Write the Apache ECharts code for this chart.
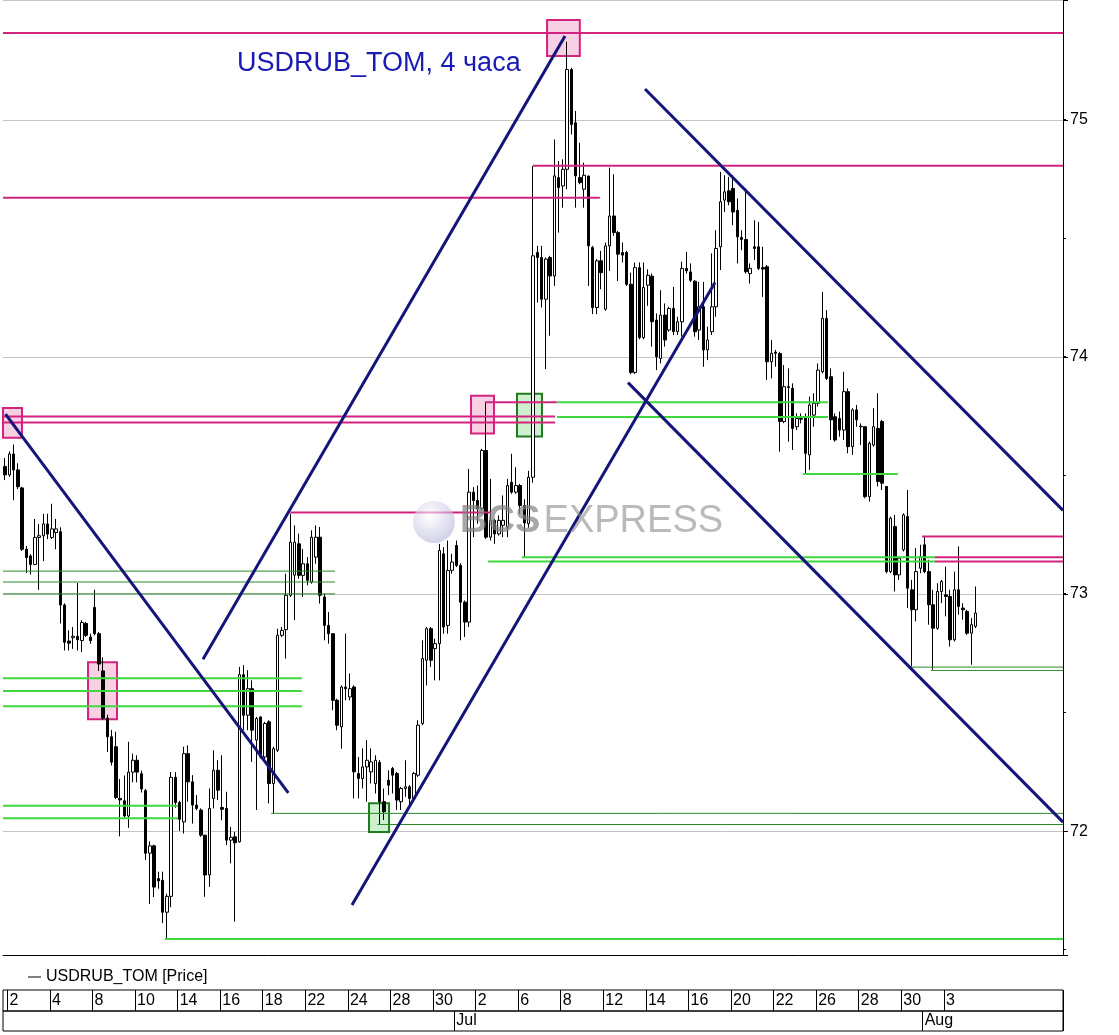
<!DOCTYPE html>
<html>
<head>
<meta charset="utf-8">
<script src="https://cdn.jsdelivr.net/npm/echarts@6/dist/echarts.min.js"></script>
<style>html,body{margin:0;padding:0;background:#fff}#c{width:1119px;height:1035px}</style>
</head>
<body>
<div id="c"></div>
<script>
// ---- trading days (4-hour candles) ----
const juneDays = [1,2,3,4,7,8,9,10,11,14,15,16,17,18,21,22,23,24,25,28,29,30];
const julyDays = [1,2,5,6,7,8,9,12,13,14,15,16,19,20,21,22,23,26,27,28,29,30];
const augDays  = [2,3,4];
const candlesPerDayFirst = 1;   // only last candle of June 1 visible
const candlesPerDay = 5;
const candlesPerDayLast = 3;    // Aug 4 so far
const totalSlots = 249;         // category slots across the plot (incl. empty right side)

// ---- OHLC values ----
const opens = [73.538,73.503,73.591,73.524,73.448,73.189,73.161,73.125,73.239,73.246,
73.296,73.239,73.260,73.263,72.954,72.802,72.816,72.822,72.804,72.876,
72.819,72.944,72.833,72.676,72.477,72.398,72.356,72.138,72.128,72.064,
72.249,72.299,72.242,72.171,71.907,71.938,71.800,71.793,71.658,71.725,
72.227,72.121,72.039,72.327,72.208,72.110,72.089,71.983,71.815,72.138,
72.257,72.100,72.096,71.962,71.976,71.955,72.660,72.489,72.601,72.384,
72.482,72.313,72.461,72.201,72.341,72.826,72.850,72.995,73.080,73.212,
73.079,73.128,73.051,73.156,73.240,72.988,72.868,72.833,72.552,72.440,
72.608,72.566,72.608,72.243,72.222,72.271,72.250,72.201,72.290,72.124,
72.215,72.264,72.243,72.124,72.180,72.187,72.138,72.236,72.454,72.721,
72.854,72.770,72.791,73.170,72.868,73.100,73.205,73.121,72.966,72.882,
73.430,73.395,73.360,73.606,73.240,73.311,73.254,73.290,73.283,73.472,
73.430,73.458,73.374,73.297,73.493,74.441,74.420,74.244,74.420,74.342,
74.757,74.722,74.792,75.213,74.988,74.757,74.708,74.764,74.462,74.209,
74.406,74.202,74.469,74.595,74.525,74.441,74.441,74.307,73.935,74.377,
74.082,74.303,74.341,74.156,73.994,74.177,74.114,74.205,74.107,74.149,
74.374,74.359,74.320,74.114,74.212,74.030,74.107,74.212,74.465,74.662,
74.701,74.711,74.619,74.504,74.496,74.352,74.465,74.465,74.378,74.381,
73.980,74.021,74.015,73.728,73.875,73.868,73.706,73.741,73.748,73.587,
73.755,73.805,73.938,74.163,73.917,73.748,73.741,73.692,73.854,73.622,
73.777,73.708,73.706,73.411,73.629,73.699,73.728,73.454,73.095,73.285,
73.081,73.187,73.327,73.018,72.934,73.109,73.208,73.095,72.955,72.856,
73.011,72.997,72.990,72.807,73.018,72.941,72.927,72.835,72.864];
const highs = [73.574,73.602,73.631,73.552,73.453,73.203,73.168,73.317,73.296,73.339,
73.339,73.381,73.317,73.282,72.961,72.847,72.861,73.047,72.890,72.883,
72.833,73.018,72.840,72.733,72.491,72.427,72.420,72.220,72.235,72.377,
72.327,72.320,72.256,72.178,71.957,71.943,71.829,71.829,71.736,72.249,
72.249,72.128,72.356,72.362,72.236,72.152,72.096,71.983,72.180,72.341,
72.299,72.320,72.166,72.018,71.997,72.693,72.700,72.679,72.636,72.482,
72.482,72.461,72.468,72.356,72.854,72.861,73.086,73.339,73.290,73.255,
73.191,73.156,73.269,73.290,73.283,73.002,72.924,72.833,72.559,72.615,
72.833,72.665,72.615,72.313,72.349,72.384,72.349,72.320,72.300,72.180,
72.257,72.271,72.250,72.187,72.299,72.194,72.250,72.468,72.805,72.861,
72.861,72.812,73.212,73.198,73.226,73.170,73.226,73.130,72.973,73.528,
73.451,73.458,73.613,73.809,73.486,73.318,73.332,73.416,73.486,73.592,
73.535,73.465,73.400,73.520,74.806,74.469,74.469,74.420,74.427,74.918,
74.827,74.834,75.330,75.220,75.038,74.904,74.820,74.764,74.469,74.413,
74.448,74.483,74.799,74.771,74.532,74.483,74.448,74.356,74.399,74.399,
74.399,74.370,74.352,74.184,74.282,74.226,74.212,74.296,74.170,74.402,
74.444,74.395,74.324,74.317,74.317,74.128,74.437,74.535,74.781,74.767,
74.760,74.767,74.669,74.535,74.711,74.395,74.577,74.570,74.465,74.388,
74.072,74.030,74.022,73.966,73.952,73.889,73.762,73.762,73.762,73.833,
73.847,73.973,74.275,74.198,73.952,73.762,73.770,73.938,73.868,73.784,
73.798,73.720,73.706,73.643,73.784,73.847,73.735,73.454,73.327,73.334,
73.158,73.341,73.439,73.060,73.194,73.208,73.243,73.145,73.018,73.046,
73.060,73.116,73.018,73.095,73.201,72.962,72.934,72.899,73.032];
const lows = [73.481,73.495,73.396,73.443,73.182,73.089,73.082,73.122,73.018,73.139,
73.232,73.232,73.189,72.876,72.762,72.762,72.769,72.762,72.755,72.819,
72.790,72.826,72.676,72.470,72.334,72.277,72.135,71.978,72.057,72.014,
72.206,72.206,72.163,71.878,71.693,71.722,71.757,71.612,71.545,71.679,
72.099,72.001,71.990,72.124,72.032,72.088,71.976,71.723,71.765,72.096,
72.131,72.046,71.941,71.864,71.618,71.951,72.426,72.426,72.292,72.089,
72.306,72.299,72.117,72.075,72.334,72.819,72.728,72.988,72.890,73.065,
72.988,73.037,73.044,73.128,72.960,72.805,72.791,72.510,72.426,72.348,
72.552,72.552,72.138,72.138,72.180,72.124,72.201,72.159,72.028,72.047,
72.152,72.159,72.089,72.089,72.145,72.110,72.131,72.229,72.447,72.615,
72.693,72.636,72.636,72.833,72.833,73.086,73.114,72.805,72.819,72.861,
73.240,73.297,73.353,73.233,73.226,73.212,73.247,73.240,73.240,73.423,
73.423,73.339,73.155,73.280,73.470,74.230,74.209,73.949,74.090,74.300,
74.525,74.630,74.708,74.939,74.630,74.729,74.630,74.300,74.181,74.181,
74.286,74.195,74.363,74.511,74.321,74.399,74.300,73.928,73.928,74.075,
74.075,74.216,74.044,73.945,73.973,74.044,74.107,74.093,74.093,74.086,
74.352,74.317,74.086,74.072,73.959,73.987,74.093,74.170,74.367,74.612,
74.640,74.556,74.395,74.451,74.352,74.310,74.409,74.367,74.254,73.903,
73.910,73.959,73.601,73.721,73.643,73.608,73.692,73.720,73.510,73.524,
73.706,73.791,73.931,73.903,73.650,73.643,73.664,73.650,73.594,73.587,
73.706,73.629,73.404,73.390,73.622,73.454,73.439,73.088,73.088,73.011,
73.060,73.180,72.941,72.695,72.885,73.088,73.088,72.871,72.681,72.849,
72.962,72.906,72.779,72.800,72.913,72.892,72.828,72.702,72.857];
const closes = [73.503,73.591,73.524,73.453,73.189,73.154,73.125,73.239,73.246,73.296,
73.253,73.275,73.275,72.954,72.797,72.793,72.822,72.807,72.880,72.826,
72.804,72.833,72.705,72.477,72.398,72.291,72.142,72.132,72.064,72.249,
72.299,72.249,72.178,71.907,71.938,71.764,71.790,71.658,71.725,72.227,
72.121,72.050,72.327,72.208,72.110,72.096,71.983,71.815,72.096,72.257,
72.173,72.092,71.962,71.974,71.951,72.660,72.489,72.601,72.426,72.475,
72.313,72.454,72.201,72.348,72.826,72.847,72.995,73.219,73.219,73.079,
73.128,73.058,73.240,73.240,72.995,72.868,72.833,72.552,72.447,72.608,
72.601,72.601,72.250,72.222,72.271,72.299,72.292,72.299,72.124,72.082,
72.194,72.236,72.131,72.180,72.187,72.138,72.243,72.447,72.728,72.854,
72.721,72.791,73.184,72.861,73.100,73.135,73.121,72.966,72.882,73.430,
73.395,73.360,73.606,73.240,73.311,73.254,73.311,73.311,73.458,73.430,
73.458,73.374,73.300,73.493,74.427,74.420,74.244,74.413,74.342,74.764,
74.715,74.792,75.213,74.981,74.764,74.736,74.767,74.469,74.209,74.406,
74.356,74.469,74.595,74.525,74.434,74.430,74.307,73.935,74.377,74.082,
74.293,74.345,74.149,74.001,74.177,74.072,74.205,74.107,74.149,74.374,
74.364,74.324,74.107,74.212,74.030,74.072,74.212,74.458,74.655,74.697,
74.655,74.612,74.507,74.496,74.360,74.374,74.458,74.374,74.371,73.980,
74.016,74.016,73.728,73.875,73.872,73.699,73.741,73.738,73.594,73.798,
73.805,73.945,74.163,73.910,73.735,73.650,73.692,73.854,73.622,73.777,
73.735,73.706,73.411,73.636,73.706,73.475,73.468,73.095,73.320,73.081,
73.151,73.334,73.025,72.934,73.095,73.158,73.095,72.955,72.856,73.011,
73.053,72.990,72.807,73.018,72.948,72.934,72.835,72.871,72.920];
const lastPrice = 72.92;

// ---- value axis ----
const yTicks = [72, 73, 74, 75];
const yMin = 71.4775, yMax = 75.5062;
const halfTickMin = 71.5, halfTickMax = 75.5, halfTickStep = 0.5;

// ---- drawn annotations: [price, fromSlot, toSlot] ----
const magentaLevels = [
  [75.367, -0.5, 248.5], [74.807, 124, 248.5], [74.672, -0.5, 139.7],
  [73.749, -0.5, 129.2], [73.724, -0.5, 129.2], [73.809, 112.7, 129.6],
  [73.344, 67, 113.9], [73.155, 218.4, 248.5], [73.138, 218.4, 248.5],
  [73.243, 215.4, 248.5]
];
const brightGreenLevels = [
  [73.809, 129.6, 193.3], [73.747, 129.6, 193.3], [73.155, 121.4, 218.4],
  [73.138, 113.4, 218.4], [72.645, -0.5, 69.7], [72.591, -0.5, 69.7],
  [72.527, -0.5, 69.7], [72.107, -0.5, 40.6], [72.054, -0.5, 40.6],
  [71.545, 37.5, 248.5], [73.507, 187.4, 209.7]
];
const thinGreenLevels = [
  [73.097, -0.5, 77.5], [73.051, -0.5, 77.5], [73.001, -0.5, 77.5],
  [72.075, 62.5, 248.5], [72.028, 87.4, 248.5], [72.692, 212.3, 248.5],
  [72.678, 217.5, 248.5]
];
// trend lines: [fromSlot, fromPrice, toSlot, toPrice]
const trendLines = [
  [0.09, 73.759, 66.52, 72.161],
  [46.48, 72.725, 131.52, 75.354],
  [81.48, 71.688, 166.75, 74.314],
  [146.32, 73.892, 248.5, 72.038],
  [150.31, 75.131, 248.5, 73.353]
];
// boxes: [fromSlot, toSlot, lowPrice, highPrice]
const pinkZones = [
  [127.3, 135.0, 75.270, 75.422], [-0.7, 3.96, 73.660, 73.785],
  [19.47, 26.28, 72.472, 72.712], [109.44, 114.84, 73.677, 73.837]
];
const greenZones = [
  [120.24, 126.11, 73.665, 73.845], [85.48, 90.18, 71.996, 72.118]
];

// ---- build categories ----
const monthNames = ['Jun', 'Jul', 'Aug'];
const days = [];
juneDays.forEach(d => days.push([0, d]));
julyDays.forEach(d => days.push([1, d]));
augDays.forEach(d => days.push([2, d]));
const cats = [];
const catDay = [];
const catMonth = [];
days.forEach((md, di) => {
  let n = candlesPerDay;
  if (di === 0) n = candlesPerDayFirst;
  if (di === days.length - 1) n = candlesPerDayLast;
  for (let k = 0; k < n; k++) {
    cats.push(monthNames[md[0]] + ' ' + md[1] + ' #' + k);
    catDay.push(md[1]);
    catMonth.push(md[0]);
  }
});
while (cats.length < totalSlots) { cats.push('e' + cats.length); catDay.push(null); catMonth.push(null); }

// first candle of every second trading day starting June 2
const dayLabelIdx = new Set();
{
  let idx = 0;
  days.forEach((md, di) => {
    if (di >= 1 && (di - 1) % 2 === 0 && di < days.length - 1) dayLabelIdx.add(idx);
    idx += (di === 0 ? candlesPerDayFirst : candlesPerDay);
  });
}
const monthStartIdx = new Set();
for (let i = 1; i < catMonth.length; i++) {
  if (catMonth[i] != null && catMonth[i - 1] != null && catMonth[i] !== catMonth[i - 1]) monthStartIdx.add(i);
}

const candleData = opens.map((o, i) => [o, closes[i], lows[i], highs[i]]);

const FONT = '"Liberation Sans", Arial, sans-serif';
const MAGENTA = '#d4237f';
const BRIGHT_GREEN = '#3fd83f';
const DARK_GREEN = '#2a8a2a';
const NAVY = '#14147a';

// grid geometry: same px-per-rouble for the half-tick overlay grid
const plotTopPx = -1, plotBottomPx = 955;
const pxPerUnit = (plotBottomPx - plotTopPx) / (yMax - yMin);
const halfGridTop = plotTopPx + (yMax - halfTickMax) * pxPerUnit;
const halfGridBottom = 1035 - (plotBottomPx - (halfTickMin - yMin) * pxPerUnit);

const series = [];
series.push({
  type: 'line', name: 'zones', xAxisIndex: 1, yAxisIndex: 0, data: [[0, 73]],
  symbol: 'none', lineStyle: { opacity: 0 }, silent: true, z: 1,
  markArea: {
    silent: true,
    data: pinkZones.map(z => [
      { coord: [z[0], z[2]], itemStyle: { color: 'rgba(240,170,205,0.55)', borderColor: MAGENTA, borderWidth: 2 } },
      { coord: [z[1], z[3]] }
    ]).concat(greenZones.map(z => [
      { coord: [z[0], z[2]], itemStyle: { color: 'rgba(160,225,160,0.5)', borderColor: '#1e7b1e', borderWidth: 2 } },
      { coord: [z[1], z[3]] }
    ]))
  }
});
series.push({
  type: 'candlestick', name: 'USDRUB_TOM [Price]', xAxisIndex: 0, yAxisIndex: 0,
  data: candleData, barWidth: 3, z: 2,
  itemStyle: { color: '#ffffff', color0: '#000000', borderColor: '#000000', borderColor0: '#000000', borderWidth: 1 },
  markLine: {
    silent: true, symbol: 'none', animation: false,
    lineStyle: { opacity: 0 },
    data: [{ yAxis: lastPrice }],
    label: {
      show: true, position: 'end', distance: 4,
      formatter: () => String(lastPrice.toFixed(2)).replace('.', ','),
      color: '#000', fontSize: 14, fontFamily: FONT,
      backgroundColor: '#fff', borderColor: '#000', borderWidth: 1, padding: [2, 3, 1, 3]
    }
  }
});
function addLevels(levels, color, width) {
  levels.forEach(l => series.push({
    type: 'line', xAxisIndex: 1, yAxisIndex: 0, data: [[l[1], l[0]], [l[2], l[0]]],
    symbol: 'none', silent: true, z: 3, lineStyle: { color: color, width: width }
  }));
}
addLevels(thinGreenLevels, DARK_GREEN, 1);
addLevels(brightGreenLevels, BRIGHT_GREEN, 2);
addLevels(magentaLevels, MAGENTA, 2);
trendLines.forEach(t => series.push({
  type: 'line', xAxisIndex: 1, yAxisIndex: 0, data: [[t[0], t[1]], [t[2], t[3]]],
  symbol: 'none', silent: true, z: 4, lineStyle: { color: NAVY, width: 3 }
}));

const chart = echarts.init(document.getElementById('c'), null, { renderer: 'canvas' });
chart.setOption({
  animation: false,
  backgroundColor: '#fff',
  title: {
    text: 'USDRUB_TOM, 4 часа', left: 232, top: 45,
    textStyle: { color: '#1a1ab4', fontSize: 27, fontWeight: 'normal', fontFamily: FONT }
  },
  legend: {
    left: 23, top: 964, selectedMode: false, itemWidth: 13, itemHeight: 1, itemGap: 10,
    textStyle: { fontSize: 16, color: '#000', fontFamily: FONT },
    data: [{ name: 'USDRUB_TOM [Price]', icon: 'path://M0 0H13V1H0Z', itemStyle: { color: '#000', borderWidth: 0 } }]
  },
  grid: [
    { left: 3, right: 56, top: plotTopPx, bottom: 1035 - plotBottomPx, containLabel: false },
    { left: 3, right: 56, top: 990, height: 21, show: true, borderColor: '#000', borderWidth: 1 },
    { left: 3, right: 56, top: 1011, height: 20, show: true, borderColor: '#000', borderWidth: 1 },
    { left: 3, right: 56, top: halfGridTop, bottom: halfGridBottom, containLabel: false }
  ],
  xAxis: [
    { type: 'category', gridIndex: 0, data: cats, boundaryGap: true,
      axisLine: { show: true, onZero: false, lineStyle: { color: '#000', width: 1 } },
      axisTick: { show: false }, axisLabel: { show: false }, splitLine: { show: false } },
    { type: 'value', gridIndex: 0, min: -0.5, max: totalSlots - 0.5, show: false },
    { type: 'category', gridIndex: 1, data: cats, boundaryGap: true,
      axisLine: { show: false, onZero: false }, axisTick: { show: false },
      splitLine: { show: true, interval: (i) => dayLabelIdx.has(i), lineStyle: { color: '#000', width: 1 } },
      axisLabel: { show: true, inside: true, margin: 2, interval: (i) => dayLabelIdx.has(i),
        align: 'left', color: '#000', fontSize: 16, fontFamily: FONT,
        formatter: (v, i) => String(catDay[i]) } },
    { type: 'category', gridIndex: 2, data: cats, boundaryGap: true,
      axisLine: { show: false, onZero: false }, axisTick: { show: false },
      splitLine: { show: true, interval: (i) => monthStartIdx.has(i), lineStyle: { color: '#000', width: 1 } },
      axisLabel: { show: true, inside: true, margin: 2, interval: (i) => monthStartIdx.has(i),
        align: 'left', color: '#000', fontSize: 16, fontFamily: FONT,
        formatter: (v, i) => monthNames[catMonth[i]] } },
    { type: 'category', gridIndex: 3, data: cats, show: false }
  ],
  yAxis: [
    { type: 'value', gridIndex: 0, position: 'right', min: yMin, max: yMax, splitNumber: 4, scale: true,
      axisLine: { show: true, onZero: false, lineStyle: { color: '#000', width: 1 } },
      axisTick: { show: true, length: 5, lineStyle: { color: '#000' } },
      minorTick: { show: false },
      splitLine: { show: true, lineStyle: { color: '#c4c4c4', width: 1 } },
      axisLabel: { show: true, margin: 7, color: '#000', fontSize: 16, fontFamily: FONT,
        formatter: (v) => yTicks.indexOf(Math.round(v * 1000) / 1000) >= 0 ? String(Math.round(v)) : '' } },
    { type: 'value', gridIndex: 1, show: false },
    { type: 'value', gridIndex: 2, show: false },
    { type: 'value', gridIndex: 3, position: 'right', min: halfTickMin, max: halfTickMax, interval: halfTickStep,
      axisLine: { show: false, onZero: false }, splitLine: { show: false }, axisLabel: { show: false },
      axisTick: { show: true, length: 3, lineStyle: { color: '#000' } } }
  ],
  graphic: [
    { type: 'circle', left: 413, top: 501, z: 50, silent: true,
      shape: { r: 21 },
      style: { fill: new echarts.graphic.RadialGradient(0.4, 0.35, 0.7, [
        { offset: 0, color: 'rgba(255,255,255,0.6)' },
        { offset: 1, color: 'rgba(175,175,215,0.6)' }]) } },
    { type: 'text', left: 460, top: 503, z: 50, silent: true,
      style: { text: '{b|BCS} {n|EXPRESS}',
        rich: {
          b: { fontSize: 38, fontWeight: 'bold', fill: 'rgba(130,130,130,0.7)', fontFamily: FONT },
          n: { fontSize: 38, fontWeight: 'normal', fill: 'rgba(140,140,140,0.6)', fontFamily: FONT }
        } } }
  ],
  series: series
});
</script>
</body>
</html>
